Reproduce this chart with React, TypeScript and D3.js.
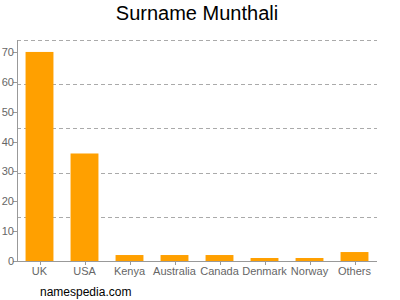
import React from "react";
import * as d3 from "d3";

const categories = ["UK", "USA", "Kenya", "Australia", "Canada", "Denmark", "Norway", "Others"];
const values = [70, 36, 2, 2, 2, 1, 1, 3];
const yTicks = [0, 10, 20, 30, 40, 50, 60, 70];
const title = "Surname Munthali";
const footer = "namespedia.com";

export default function App() {
  const W = 400, H = 300;
  const left = 17, right = 377, top = 40, bottom = 261;
  const yMax = 74;
  const x = d3.scaleBand<string>().domain(categories).range([left, right]).paddingInner(0.38).paddingOuter(0.19);
  const y = d3.scaleLinear().domain([0, yMax]).range([bottom, top]);
  const gridVals = d3.range(1, 6).map((i) => (yMax * i) / 5);
  const font = "Arial, 'Liberation Sans', Helvetica, sans-serif";
  return (
    <svg width={W} height={H} style={{ position: "absolute", left: 0, top: 0 }} fontFamily={font}>
      <rect width={W} height={H} fill="#fff" />
      <text x={197} y={19.5} textAnchor="middle" fontSize={20} fill="#000">{title}</text>
      {gridVals.map((v, i) => (
        <line key={i} x1={left} x2={right} y1={Math.round(y(v)) + 0.5} y2={Math.round(y(v)) + 0.5} stroke="#aaa" strokeDasharray="4,3" />
      ))}
      {categories.map((c, i) => (
        <rect key={c} x={x(c)} width={x.bandwidth()} y={y(values[i])} height={bottom - y(values[i])} fill="#FFA000" />
      ))}
      <line x1={left + 0.5} x2={left + 0.5} y1={top} y2={bottom} stroke="#999" />
      <line x1={left} x2={right} y1={bottom + 0.5} y2={bottom + 0.5} stroke="#999" />
      {yTicks.map((t) => (
        <g key={t}>
          <line x1={left - 4} x2={left} y1={Math.round(y(t)) + 0.5} y2={Math.round(y(t)) + 0.5} stroke="#999" />
          <text x={left - 3} y={y(t) + 4} textAnchor="end" fontSize={11} fill="#666">{t}</text>
        </g>
      ))}
      {categories.map((c) => {
        const cx = (x(c) ?? 0) + x.bandwidth() / 2;
        return (
          <g key={c}>
            <line x1={Math.round(cx) + 0.5} x2={Math.round(cx) + 0.5} y1={bottom} y2={bottom + 4} stroke="#999" />
            <text x={cx} y={bottom + 14} textAnchor="middle" fontSize={11} fill="#666">{c}</text>
          </g>
        );
      })}
      <text x={40} y={296} fontSize={12} fill="#000">{footer}</text>
    </svg>
  );
}
